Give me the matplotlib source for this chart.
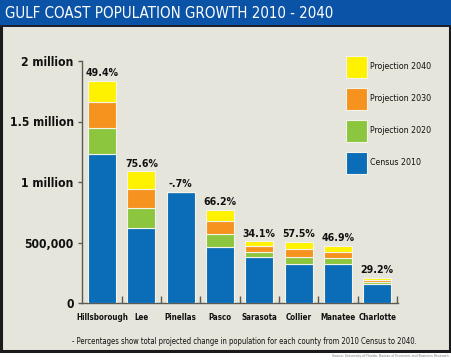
import numpy as np
import matplotlib
matplotlib.use("Agg")
import matplotlib.pyplot as plt
from matplotlib.patches import Rectangle, Patch
from matplotlib.ticker import FixedLocator
from matplotlib import font_manager as fm

counties = ["Hillsborough", "Lee", "Pinellas", "Pasco", "Sarasota", "Collier", "Manatee", "Charlotte"]
census_2010 = [1229226, 618754, 916542, 464697, 379448, 321520, 322833, 159978]
proj_2020 = [1445000, 785000, 916542, 570000, 420000, 380000, 370000, 172000]
proj_2030 = [1660000, 940000, 916542, 680000, 470000, 446000, 420000, 190000]
proj_2040 = [1836000, 1087000, 910000, 772000, 509000, 506000, 474000, 207000]
pct_labels = ["49.4%", "75.6%", "-.7%", "66.2%", "34.1%", "57.5%", "46.9%", "29.2%"]
series_names = ["Census 2010", "Projection 2020", "Projection 2030", "Projection 2040"]
ytick_vals = [0, 500000, 1000000, 1500000, 2000000]
ytick_labels = ["0", "500,000", "1 million", "1.5 million", "2 million"]

colors = ["#0b6cb8", "#8cc63f", "#f6921e", "#fff200"]


def pick(cands):
    for c in cands:
        try:
            fm.findfont(fm.FontProperties(family=c), fallback_to_default=False)
            return c
        except Exception:
            pass
    return "DejaVu Sans"


FAM = pick(["Liberation Sans Narrow", "DejaVu Sans Condensed", "DejaVu Sans"])
FONT = [FAM, "DejaVu Sans"]
STRETCH = "condensed"

fig = plt.figure(figsize=(4.52, 3.6), dpi=100)
fig.patch.set_facecolor("white")
renderer = fig.canvas.get_renderer()

W, H = 452, 360
def fx(px): return px / W
def fy(py): return 1 - py / H


def fit_size(s, target_px, weight="normal", base=10.0):
    t = fig.text(0, 0, s, fontsize=base, family=FONT, fontstretch=STRETCH,
                 fontweight=weight)
    w = t.get_window_extent(renderer).width
    t.remove()
    return base * target_px / w


# panel background with dark border
fig.patches.append(Rectangle((fx(1), fy(351)), fx(449), (351 - 24) / H,
                             transform=fig.transFigure, facecolor="#e6e5db",
                             edgecolor="#1a1a1a", linewidth=2.2, zorder=-3))
# title bar
fig.patches.append(Rectangle((0, fy(25)), 1, 25 / H, transform=fig.transFigure,
                             facecolor="#0a53a6", edgecolor="none", zorder=-2))
fig.patches.append(Rectangle((0, fy(27)), 1, 2.5 / H, transform=fig.transFigure,
                             facecolor="#1a2233", edgecolor="none", zorder=-2))
title = "GULF COAST POPULATION GROWTH 2010 - 2040"
fig.text(fx(5), fy(13), title, color="white",
         fontsize=fit_size(title, 328), family=FONT, fontstretch=STRETCH,
         va="center", ha="left")

ax = fig.add_axes([fx(82), fy(303), (398 - 82) / W, (303 - 61) / H])
ax.set_facecolor("none")

x = np.arange(len(counties))
stack = np.array([census_2010, proj_2020, proj_2030, proj_2040], dtype=float)
segs = np.vstack([stack[0], np.maximum(np.diff(stack, axis=0), 0)])
bottom = np.zeros(len(counties))
handles = []
for k in range(4):
    ax.bar(x, segs[k], bottom=bottom, width=0.71, color=colors[k],
           edgecolor="#f4f3ea", linewidth=0.8, zorder=3)
    bottom = bottom + segs[k]
    handles.append(Patch(facecolor=colors[k], edgecolor="#f4f3ea", linewidth=0.8,
                         label=series_names[k]))

pct_size = fit_size("49.4%", 33, "bold")
for xi, t, lab in zip(x, bottom, pct_labels):
    ax.annotate(lab, (xi, t), xytext=(0, 2), textcoords="offset points",
                ha="center", va="bottom", fontsize=pct_size, fontweight="bold",
                family=FONT, fontstretch=STRETCH, color="#111111")

ax.set_xlim(-0.51, 7.53)
ax.set_ylim(0, 2000000)
ax.spines["top"].set_visible(False)
ax.spines["right"].set_visible(False)
for s in ("left", "bottom"):
    ax.spines[s].set_color("#5a5a52")
    ax.spines[s].set_linewidth(1.0)

ax.set_yticks(ytick_vals)
ax.set_yticklabels(ytick_labels)
ax.tick_params(axis="y", direction="out", length=3, width=1, color="#5a5a52",
               pad=3, labelsize=fit_size("1.5 million", 64, "bold"),
               labelcolor="#111111")
for t in ax.get_yticklabels():
    t.set_fontweight("bold"); t.set_family(FONT); t.set_fontstretch(STRETCH)

ax.set_xticks(x)
ax.set_xticklabels(counties)
ax.tick_params(axis="x", which="major", length=0, pad=7,
               labelsize=fit_size("Hillsborough", 51, "bold"),
               labelcolor="#111111")
for t in ax.get_xticklabels():
    t.set_fontweight("bold"); t.set_family(FONT); t.set_fontstretch(STRETCH)
ax.xaxis.set_minor_locator(FixedLocator(x + 0.5))
ax.tick_params(axis="x", which="minor", direction="in", length=5, width=1,
               color="#5a5a52")

leg_size = fit_size("Projection 2040", 62)
em_px = leg_size * 100 / 72
hh = (22 / em_px - 0.245) / 0.65
leg = fig.legend(handles=handles[::-1], loc="upper left",
                 bbox_to_anchor=(fx(346), fy(56)), frameon=False,
                 prop=fm.FontProperties(family=FONT, size=leg_size, stretch=STRETCH),
                 handlelength=21 / em_px, handleheight=hh,
                 labelspacing=10 / em_px,
                 handletextpad=3 / em_px, borderpad=0, borderaxespad=0)
for t in leg.get_texts():
    t.set_color("#111111")

note = "- Percentages show total projected change in population for each county from 2010 Census to 2040."
fig.text(fx(72), fy(341), note, fontsize=fit_size(note, 345), family=FONT,
         fontstretch=STRETCH, color="#111111", va="center", ha="left")
src = "Source: University of Florida, Bureau of Economic and Business Research"
fig.text(fx(449), fy(356), src, fontsize=fit_size(src, 120), family=FONT,
         fontstretch=STRETCH, color="#777777", va="center", ha="right")

fig.savefig("out.png", dpi=100, facecolor="white")
